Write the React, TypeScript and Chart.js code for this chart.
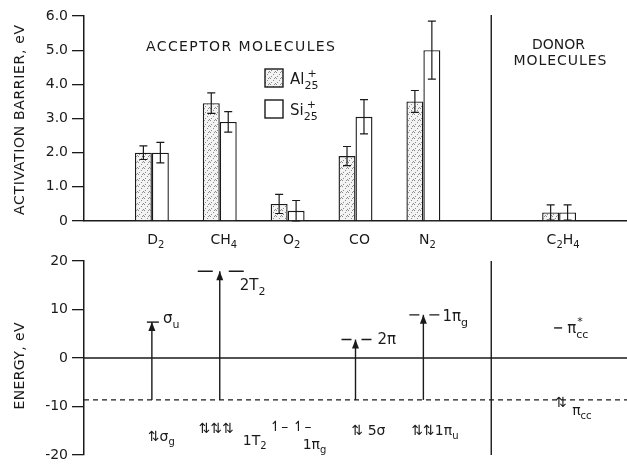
import React, { useEffect, useRef } from 'react';
import { Chart, registerables } from 'chart.js';

Chart.register(...registerables);

// ---------------- data: upper panel (activation barrier, eV) ----------------
const categories = ['', 'D2', 'CH4', 'O2', 'CO', 'N2', '', 'C2H4', ''];
const alBarrier = [null, 2.0, 3.45, 0.5, 1.9, 3.5, null, 0.25, null];
const siBarrier = [null, 2.0, 2.9, 0.3, 3.05, 5.0, null, 0.25, null];
const alError = [null, 0.2, 0.3, 0.28, 0.28, 0.32, null, 0.22, null];
const siError = [null, 0.3, 0.3, 0.3, 0.5, 0.85, null, 0.22, null];
const barrierTicks = [0, 1, 2, 3, 4, 5, 6];
const separatorIndex = 6;

// ---------------- data: lower panel (orbital energies, eV) ----------------
const energyTicks = [-20, -10, 0, 10, 20];
const orbitalCategory = [1, 2, 4, 5, 7]; // D2, CH4, CO, N2, C2H4
const lumoEnergy = [7.4, 17.9, 3.8, 8.9, 6.2];
const hasArrow = [true, true, true, true, false];
const homoEnergy = -8.65;

type Part = { t: string; sub?: boolean; sup?: boolean; keep?: boolean; dx?: number };

const lumoLabels: Part[][] = [
  [{ t: 'σ' }, { t: 'u', sub: true }],
  [{ t: '2T' }, { t: '2', sub: true }],
  [{ t: '2π' }],
  [{ t: '1π' }, { t: 'g', sub: true }],
  [{ t: 'π' }, { t: '*', sup: true, keep: true, dx: 1 }, { t: 'cc', sub: true }],
];

const occupancyCategory = [1, 2, 2, 3, 3, 4, 5, 7, 7];
const occupancyLabels: Part[][] = [
  [{ t: '⇅' }, { t: 'σ' }, { t: 'g', sub: true }],
  [{ t: '⇅⇅⇅' }],
  [{ t: '1T' }, { t: '2', sub: true }],
  [{ t: '↿– ↿–' }],
  [{ t: '1π' }, { t: 'g', sub: true }],
  [{ t: '⇅ 5σ' }],
  [{ t: '⇅⇅1π' }, { t: 'u', sub: true }],
  [{ t: '⇅' }],
  [{ t: 'π' }, { t: 'cc', sub: true }],
];

// ---------------- styles / layout ----------------
const INK = '#1a1a1a';
const FONT = '"DejaVu Sans", sans-serif';

// level-line drawing style: left/right extent (px), dash, label offset (px)
const levelStyle = [
  { l: -5, r: 7, dash: [] as number[], lx: 11, ly: 1 },
  { l: -22, r: 24, dash: [15, 16], lx: 20, ly: 19 },
  { l: -14, r: 16, dash: [10, 10], lx: 22, ly: 4 },
  { l: -14, r: 16, dash: [10, 10], lx: 19, ly: 6 },
  { l: -5, r: 3, dash: [] as number[], lx: 8, ly: 5 },
];
const occupancyOffset = [
  { dx: -4, dy: 41 },
  { dx: -21, dy: 33 },
  { dx: 23, dy: 45 },
  { dx: -18, dy: 31 },
  { dx: 15, dy: 49 },
  { dx: -4, dy: 35 },
  { dx: -12, dy: 35 },
  { dx: -4, dy: 7 },
  { dx: 13, dy: 15 },
];

function chemParts(label: string): Part[] {
  const out: Part[] = [];
  for (const ch of label) {
    const sub = /[0-9]/.test(ch);
    const last = out[out.length - 1];
    if (last && !!last.sub === sub) last.t += ch;
    else out.push({ t: ch, sub });
  }
  return out;
}

function richWidth(ctx: CanvasRenderingContext2D, parts: Part[], size: number) {
  let w = 0;
  for (const p of parts) {
    const s = p.sub || p.sup ? Math.round(size * 0.74) : size;
    ctx.font = `${s}px ${FONT}`;
    if (!p.keep) w += ctx.measureText(p.t).width;
  }
  return w;
}

function drawRich(ctx: CanvasRenderingContext2D, x: number, y: number, parts: Part[], size: number) {
  let cx = x;
  ctx.textAlign = 'left';
  ctx.textBaseline = 'alphabetic';
  for (const p of parts) {
    const s = p.sub || p.sup ? Math.round(size * 0.74) : size;
    ctx.font = `${s}px ${FONT}`;
    const dy = p.sub ? size * 0.32 : p.sup ? -size * 0.5 : 0;
    ctx.fillText(p.t, cx + (p.dx || 0), y + dy);
    if (!p.keep) cx += ctx.measureText(p.t).width;
  }
}

function drawSpaced(
  ctx: CanvasRenderingContext2D,
  text: string,
  cx: number,
  cy: number,
  width: number,
  size: number,
  angle = 0,
) {
  ctx.save();
  ctx.font = `${size}px ${FONT}`;
  (ctx as any).letterSpacing = '0px';
  const natural = ctx.measureText(text).width;
  const ls = Math.max(0, Math.min(4, (width - natural) / Math.max(1, text.length - 1)));
  (ctx as any).letterSpacing = `${ls}px`;
  ctx.translate(cx, cy);
  ctx.rotate(angle);
  ctx.textAlign = 'left';
  ctx.textBaseline = 'middle';
  const w = ctx.measureText(text).width - ls;
  ctx.fillText(text, -w / 2, 0);
  ctx.restore();
}

function makeStipple(): CanvasPattern | string {
  const c = document.createElement('canvas');
  c.width = 6;
  c.height = 6;
  const g = c.getContext('2d');
  if (!g) return '#e8e8e8';
  g.fillStyle = '#f3f3f3';
  g.fillRect(0, 0, 6, 6);
  g.fillStyle = '#8c8c8c';
  [[0, 0], [3, 2], [1, 4], [5, 5], [4, 0]].forEach(([px, py]) => g.fillRect(px, py, 1, 1));
  return g.createPattern(c, 'repeat') || '#e8e8e8';
}

export default function App() {
  const topRef = useRef<HTMLCanvasElement>(null);
  const botRef = useRef<HTMLCanvasElement>(null);

  useEffect(() => {
    if (!topRef.current || !botRef.current) return;
    const stipple = makeStipple();

    const topDecor = {
      id: 'topDecor',
      afterDatasetsDraw(chart: any) {
        const { ctx } = chart;
        const x = chart.scales.x;
        const y = chart.scales.y;
        ctx.save();
        ctx.strokeStyle = INK;
        ctx.fillStyle = INK;
        ctx.lineWidth = 1.2;
        // error bars
        [alError, siError].forEach((errs, di) => {
          const vals = di === 0 ? alBarrier : siBarrier;
          const meta = chart.getDatasetMeta(di);
          meta.data.forEach((el: any, i: number) => {
            const v = vals[i];
            const e = errs[i];
            if (v == null || e == null) return;
            const px = el.x;
            const t = y.getPixelForValue(v + e);
            const b = y.getPixelForValue(Math.max(0, v - e));
            ctx.beginPath();
            ctx.moveTo(px, t);
            ctx.lineTo(px, b);
            ctx.moveTo(px - 4, t);
            ctx.lineTo(px + 4, t);
            ctx.moveTo(px - 4, b);
            ctx.lineTo(px + 4, b);
            ctx.stroke();
          });
        });
        // separator between acceptor and donor molecules
        const sx = x.getPixelForValue(separatorIndex);
        ctx.lineWidth = 1.4;
        ctx.beginPath();
        ctx.moveTo(sx, y.getPixelForValue(barrierTicks[barrierTicks.length - 1]) - 1);
        ctx.lineTo(sx, y.getPixelForValue(0));
        ctx.stroke();

        // category labels with subscripts
        categories.forEach((lab, i) => {
          if (!lab) return;
          const parts = chemParts(lab);
          const w = richWidth(ctx, parts, 14);
          drawRich(ctx, x.getPixelForValue(i) - w / 2 + 4, y.bottom + 23, parts, 14);
        });

        // headings
        drawSpaced(ctx, 'ACCEPTOR MOLECULES', 240.5, 47, 189, 14);
        drawSpaced(ctx, 'DONOR', 558.5, 45, 53, 14);
        drawSpaced(ctx, 'MOLECULES', 560, 61, 93, 14);
        drawSpaced(ctx, 'ACTIVATION BARRIER, eV', 20, 120, 190, 14, -Math.PI / 2);

        // legend
        ctx.lineWidth = 1.4;
        ctx.fillStyle = stipple as any;
        ctx.fillRect(265, 69, 18, 18);
        ctx.strokeRect(265, 69, 18, 18);
        ctx.fillStyle = '#fff';
        ctx.fillRect(265, 100, 18, 18);
        ctx.strokeRect(265, 100, 18, 18);
        ctx.fillStyle = INK;
        drawRich(ctx, 290, 84, [{ t: 'Al' }, { t: '+', sup: true, keep: true, dx: 3 }, { t: '25', sub: true }], 15);
        drawRich(ctx, 290, 115, [{ t: 'Si' }, { t: '+', sup: true, keep: true, dx: 3 }, { t: '25', sub: true }], 15);
        ctx.restore();
      },
    };

    const top = new Chart(topRef.current, {
      type: 'bar',
      data: {
        labels: categories,
        datasets: [
          {
            label: 'Al25+',
            data: alBarrier as any,
            backgroundColor: stipple as any,
            borderColor: INK,
            borderWidth: 1.4,
            categoryPercentage: 0.5,
            barPercentage: 1,
          },
          {
            label: 'Si25+',
            data: siBarrier as any,
            backgroundColor: '#ffffff',
            borderColor: INK,
            borderWidth: 1.4,
            categoryPercentage: 0.5,
            barPercentage: 1,
          },
        ],
      },
      options: {
        animation: false,
        responsive: false,
        layout: { padding: { top: 16, left: 0, right: 0, bottom: 0 } },
        plugins: { legend: { display: false }, tooltip: { enabled: false } },
        scales: {
          x: {
            type: 'category',
            offset: false,
            grid: { display: false, drawTicks: false },
            border: { display: true, color: INK, width: 1.5 },
            ticks: { display: false },
            afterFit: (s: any) => {
              s.height = 29;
            },
          },
          y: {
            min: barrierTicks[0],
            max: barrierTicks[barrierTicks.length - 1],
            afterBuildTicks: (s: any) => {
              s.ticks = barrierTicks.map((v) => ({ value: v }));
            },
            ticks: {
              color: INK,
              padding: 4,
              font: { family: FONT, size: 14, lineHeight: 1 },
              callback: (v: any) => (Number(v) === 0 ? '0' : Number(v).toFixed(1)),
            },
            grid: { drawOnChartArea: false, drawTicks: true, tickLength: 12, color: INK, lineWidth: 1.3 },
            border: { color: INK, width: 1.5 },
            afterFit: (s: any) => {
              s.width = 84;
            },
          },
        },
      } as any,
      plugins: [topDecor],
    });

    const bottomDecor = {
      id: 'bottomDecor',
      afterDatasetsDraw(chart: any) {
        const { ctx } = chart;
        const x = chart.scales.x;
        const y = chart.scales.y;
        ctx.save();
        ctx.strokeStyle = INK;
        ctx.fillStyle = INK;
        const hy = y.getPixelForValue(homoEnergy);
        orbitalCategory.forEach((c, k) => {
          const cx = x.getPixelForValue(c);
          const ly = y.getPixelForValue(lumoEnergy[k]);
          const st = levelStyle[k];
          ctx.lineWidth = 1.4;
          ctx.setLineDash(st.dash);
          ctx.beginPath();
          ctx.moveTo(cx + st.l, ly);
          ctx.lineTo(cx + st.r, ly);
          ctx.stroke();
          ctx.setLineDash([]);
          if (hasArrow[k]) {
            ctx.beginPath();
            ctx.moveTo(cx, ly);
            ctx.lineTo(cx - 3.5, ly + 9);
            ctx.lineTo(cx + 3.5, ly + 9);
            ctx.closePath();
            ctx.fill();
          }
          drawRich(ctx, cx + st.lx, ly + st.ly, lumoLabels[k], 15);
        });
        occupancyCategory.forEach((c, k) => {
          const cx = x.getPixelForValue(c);
          const o = occupancyOffset[k];
          drawRich(ctx, cx + o.dx, hy + o.dy, occupancyLabels[k], 14);
        });
        drawSpaced(ctx, 'ENERGY, eV', 20, 116, 87, 14, -Math.PI / 2);
        ctx.restore();
      },
    };

    const seg = (pts: { x: number; y: number }[], extra: any = {}) => ({
      data: pts,
      borderColor: INK,
      borderWidth: 1.4,
      pointRadius: 0,
      fill: false,
      tension: 0,
      ...extra,
    });

    const arrowSets = orbitalCategory
      .map((c, k) => ({ c, k }))
      .filter(({ k }) => hasArrow[k])
      .map(({ c, k }) =>
        seg([
          { x: c, y: homoEnergy },
          { x: c, y: lumoEnergy[k] },
        ]),
      );

    const bottom = new Chart(botRef.current, {
      type: 'line',
      data: {
        datasets: [
          seg([
            { x: 0, y: 0 },
            { x: 8, y: 0 },
          ]),
          seg(
            [
              { x: 0, y: homoEnergy },
              { x: 8, y: homoEnergy },
            ],
            { borderDash: [5, 4], borderWidth: 1.2 },
          ),
          seg([
            { x: separatorIndex, y: energyTicks[0] },
            { x: separatorIndex, y: energyTicks[energyTicks.length - 1] },
          ]),
          ...arrowSets,
        ],
      },
      options: {
        animation: false,
        responsive: false,
        layout: { padding: { top: 7, left: 0, right: 0, bottom: 7 } },
        plugins: { legend: { display: false }, tooltip: { enabled: false } },
        scales: {
          x: { type: 'linear', min: 0, max: 8, display: false },
          y: {
            min: energyTicks[0],
            max: energyTicks[energyTicks.length - 1],
            afterBuildTicks: (s: any) => {
              s.ticks = energyTicks.map((v) => ({ value: v }));
            },
            ticks: {
              color: INK,
              padding: 4,
              font: { family: FONT, size: 14, lineHeight: 1 },
              callback: (v: any) => String(v),
            },
            grid: { drawOnChartArea: false, drawTicks: true, tickLength: 12, color: INK, lineWidth: 1.3 },
            border: { color: INK, width: 1.5 },
            afterFit: (s: any) => {
              s.width = 84;
            },
          },
        },
      } as any,
      plugins: [bottomDecor],
    });

    return () => {
      top.destroy();
      bottom.destroy();
    };
  }, []);

  return (
    <div style={{ position: 'fixed', left: 0, top: 0, width: 627, height: 466, background: '#fff' }}>
      <canvas ref={topRef} width={627} height={250} style={{ position: 'absolute', left: 0, top: 0, display: 'block' }} />
      <canvas ref={botRef} width={627} height={216} style={{ position: 'absolute', left: 0, top: 250, display: 'block' }} />
    </div>
  );
}
